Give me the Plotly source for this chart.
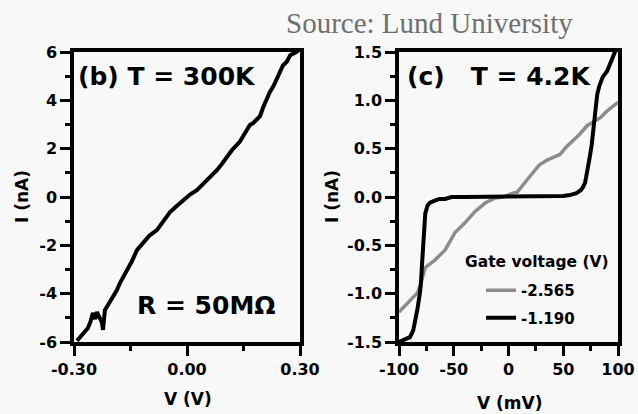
import plotly.graph_objects as go

# ---- panel (b): room-temperature I-V sweep ----
v_300k = [-0.292, -0.284, -0.272, -0.263, -0.256, -0.250, -0.244, -0.239, -0.232, -0.226,
          -0.223, -0.218, -0.207, -0.196, -0.186, -0.178, -0.168, -0.157, -0.146, -0.133,
          -0.118, -0.100, -0.080, -0.062, -0.045, -0.028, -0.010, 0.008, 0.027, 0.040,
          0.053, 0.066, 0.080, 0.094, 0.106, 0.120, 0.140, 0.159, 0.167, 0.175, 0.186,
          0.194, 0.202, 0.212, 0.220, 0.230, 0.239, 0.248, 0.255, 0.265, 0.274, 0.287, 0.295]
i_300k = [-5.95, -5.80, -5.55, -5.42, -5.15, -4.80, -5.05, -4.76, -5.00, -5.17,
          -5.50, -4.68, -4.40, -4.13, -3.85, -3.56, -3.30, -3.00, -2.65, -2.20,
          -1.95, -1.60, -1.37, -1.00, -0.62, -0.38, -0.12, 0.10, 0.29, 0.48,
          0.70, 0.90, 1.12, 1.40, 1.66, 1.95, 2.28, 2.80, 2.98, 3.05, 3.20,
          3.35, 3.70, 4.10, 4.35, 4.60, 4.92, 5.15, 5.45, 5.60, 5.87, 5.97, 6.05]

# ---- panel (c): 4.2 K sweeps at two gate voltages ----
v_gate_a = [-100, -92, -83, -79, -76, -67, -58, -49, -40, -31, -21, -12, -5, 4, 8, 15,
            22, 28, 35, 41, 47, 53, 59, 65, 72, 78, 84, 90, 95, 100]
i_gate_a = [-1.19, -1.09, -0.99, -0.85, -0.73, -0.65, -0.55, -0.37, -0.27, -0.155, -0.06,
            -0.01, 0.00, 0.04, 0.05, 0.15, 0.24, 0.33, 0.38, 0.41, 0.44, 0.52, 0.58, 0.65,
            0.74, 0.78, 0.82, 0.89, 0.94, 0.98]

v_gate_b = [-100, -95, -90, -87, -85, -83, -81, -80, -79, -78, -77, -76, -74, -72, -68,
            -63, -58, -52, -40, -20, 0, 20, 40, 50, 56, 62, 66, 68, 70, 72, 74, 76, 78,
            79, 80, 81, 83, 86, 90, 94, 97, 99]
i_gate_b = [-1.50, -1.48, -1.45, -1.38, -1.28, -1.15, -1.00, -0.90, -0.70, -0.50, -0.30,
            -0.17, -0.09, -0.06, -0.04, -0.02, -0.02, 0.00, 0.00, 0.00, 0.00, 0.00, 0.01,
            0.01, 0.02, 0.04, 0.07, 0.10, 0.15, 0.26, 0.40, 0.54, 0.72, 0.88, 0.97, 1.06,
            1.15, 1.24, 1.30, 1.40, 1.49, 1.55]

gate_labels = ["-2.565", "-1.190"]

# tick values / labels
xb_ticks = [-0.30, 0.00, 0.30]
xb_text = ["-0.30", "0.00", "0.30"]
yb_ticks = [-6, -4, -2, 0, 2, 4, 6]
yb_text = ["-6", "-4", "-2", "0", "2", "4", "6"]
xc_ticks = [-100, -50, 0, 50, 100]
xc_text = ["-100", "-50", "0", "50", "100"]
yc_ticks = [-1.5, -1.0, -0.5, 0.0, 0.5, 1.0, 1.5]
yc_text = ["-1.5", "-1.0", "-0.5", "0.0", "0.5", "1.0", "1.5"]

W, H = 638, 414
BG = "#f8f8f8"
FONT = "DejaVu Sans"


def px_x(p):
    return p / W


def px_y(p):
    return 1 - p / H


fig = go.Figure()

fig.add_trace(go.Scatter(x=v_300k, y=i_300k, mode="lines", xaxis="x", yaxis="y",
                         line=dict(color="black", width=4), showlegend=False))
fig.add_trace(go.Scatter(x=v_gate_a, y=i_gate_a, mode="lines", xaxis="x2", yaxis="y2",
                         name=gate_labels[0], legendgroup="ga",
                         line=dict(color="#8c8c8c", width=3.5)))
fig.add_trace(go.Scatter(x=v_gate_b, y=i_gate_b, mode="lines", xaxis="x2", yaxis="y2",
                         name=gate_labels[1], legendgroup="gb",
                         line=dict(color="black", width=4)))

tickfont = dict(family=FONT, size=16, color="black", weight="bold")
axis_common = dict(showline=True, linecolor="black", linewidth=3.5, mirror=True,
                   ticks="outside", ticklen=10, tickwidth=3, tickcolor="black",
                   showgrid=False, zeroline=False, tickfont=tickfont, fixedrange=True,
                   automargin=False)

fig.update_layout(
    width=W, height=H,
    margin=dict(l=0, r=0, t=0, b=0, autoexpand=False),
    paper_bgcolor=BG, plot_bgcolor=BG,
    font=dict(family=FONT, color="black"),
    xaxis=dict(domain=[px_x(74), px_x(300)], range=[-0.30, 0.30], anchor="y",
               tickvals=xb_ticks, ticktext=xb_text,
               minor=dict(tickvals=[-0.15, 0.15], ticks="outside", ticklen=5,
                          tickwidth=3, tickcolor="black"),
               **axis_common),
    yaxis=dict(domain=[px_y(342), px_y(52)], range=[-6, 6], anchor="x",
               tickvals=yb_ticks, ticktext=yb_text,
               minor=dict(dtick=1, ticks="outside", ticklen=5, tickwidth=3,
                          tickcolor="black"),
               **axis_common),
    xaxis2=dict(domain=[px_x(399), px_x(618)], range=[-100, 100], anchor="y2",
                tickvals=xc_ticks, ticktext=xc_text,
                minor=dict(dtick=25, ticks="outside", ticklen=5, tickwidth=3,
                           tickcolor="black"),
                **axis_common),
    yaxis2=dict(domain=[px_y(342), px_y(52)], range=[-1.5, 1.5], anchor="x2",
                tickvals=yc_ticks, ticktext=yc_text,
                minor=dict(dtick=0.25, ticks="outside", ticklen=5, tickwidth=3,
                           tickcolor="black"),
                **axis_common),
    legend=dict(x=px_x(481), y=px_y(274), xanchor="left", yanchor="top",
                bgcolor="rgba(0,0,0,0)",
                font=dict(family=FONT, size=15, color="black", weight="bold"),
                tracegroupgap=5),
    showlegend=True,
)

big = dict(family=FONT, size=25, color="black", weight="bold")
lab = dict(family=FONT, size=17, color="black", weight="bold")
notes = [
    dict(text="(b) T = 300K", x=px_x(76), y=px_y(77), xanchor="left", yanchor="middle", font=big),
    dict(text="R = 50MΩ", x=px_x(135), y=px_y(305), xanchor="left", yanchor="middle", font=big),
    dict(text="(c)\u00a0\u00a0 T = 4.2K", x=px_x(405), y=px_y(77), xanchor="left",
         yanchor="middle", font=big),
    dict(text="I (nA)", x=px_x(22), y=px_y(197), xanchor="center", yanchor="middle",
         textangle=-90, font=lab),
    dict(text="I (nA)", x=px_x(332), y=px_y(197), xanchor="center", yanchor="middle",
         textangle=-90, font=lab),
    dict(text="V (V)", x=px_x(188), y=px_y(399), xanchor="center", yanchor="middle", font=lab),
    dict(text="V (mV)", x=px_x(510), y=px_y(403), xanchor="center", yanchor="middle", font=lab),
    dict(text="Gate voltage (V)", x=px_x(463), y=px_y(262), xanchor="left", yanchor="middle",
         font=dict(family=FONT, size=15.5, color="black", weight="bold")),
    dict(text="Source: Lund University", x=px_x(284), y=px_y(23), xanchor="left",
         yanchor="middle",
         font=dict(family="Liberation Serif", size=29, color="#707070", weight="normal")),
]
for n in notes:
    fig.add_annotation(xref="paper", yref="paper", showarrow=False, **n)

fig.write_html("out.html")
